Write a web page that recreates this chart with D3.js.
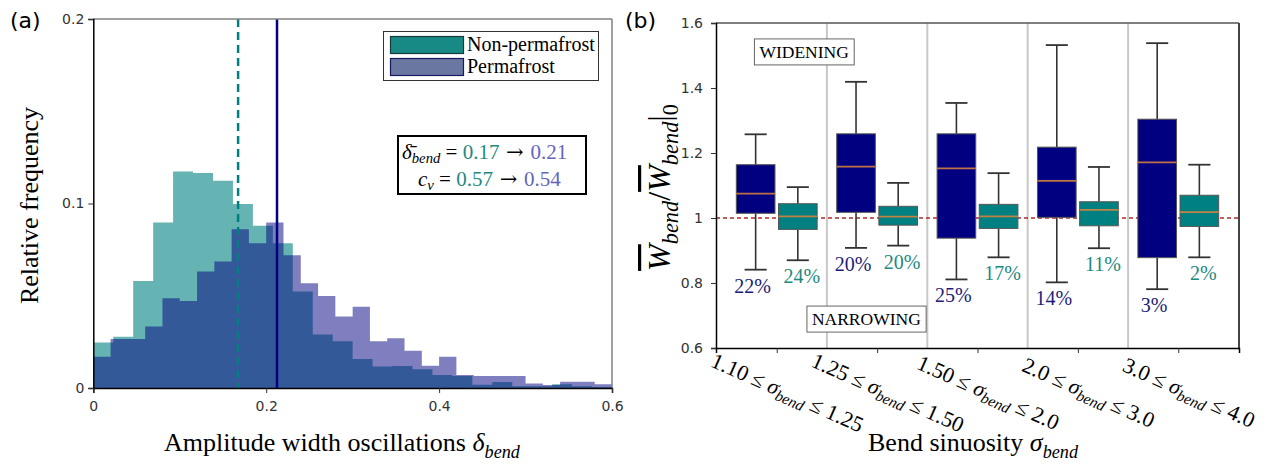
<!DOCTYPE html>
<html>
<head>
<meta charset="utf-8">
<script src="https://cdn.jsdelivr.net/npm/d3@7"></script>
<style>
  body { margin: 0; background: #fff; }
  .serif { font-family: "Liberation Serif", "Times New Roman", serif; }
  .tick text { font-family: "DejaVu Sans", sans-serif; font-size: 14px; fill: #333; }
</style>
</head>
<body>
<div id="chart"></div>
<script>
// ---- panel (a): histogram data ----
// relative frequency per bin
const nonPermStart = 0, nonPermWidth = 0.6 / 26;
const nonPermFreq = [0.0246, 0.0278, 0.058, 0.0897, 0.1174, 0.1165, 0.1123, 0.0997, 0.088, 0.0785,
                     0.0523, 0.0290, 0.0253, 0.0157, 0.0116, 0.0119, 0.0101, 0.0071, 0.0065, 0.0017,
                     0.0033, 0.0010, 0.0010, 0.0020, 0.0010, 0.0005];
const permStart = 0, permWidth = 0.02;
const permFreq = [0.017, 0.0266, 0.0266, 0.0333, 0.0487, 0.0472, 0.0631, 0.0685, 0.0861, 0.0785,
                  0.0897, 0.072, 0.0568, 0.0499, 0.0388, 0.0441, 0.0253, 0.027, 0.0202, 0.0121,
                  0.017, 0.0071, 0.0065, 0.0065, 0.0065, 0.0025, 0.0016, 0.0034, 0.0034, 0.002];
const meanNonPerm = 0.1675, meanPerm = 0.2125;
const xTicksA = [0, 0.2, 0.4, 0.6];
const yTicksA = [0, 0.1, 0.2];

// ---- panel (b): box plot data [lower whisker, q1, median, q3, upper whisker] ----
const binLow  = ["1.10", "1.25", "1.50", "2.0", "3.0"];
const binHigh = ["1.25", "1.50", "2.0", "3.0", "4.0"];
const permBoxes = [
  [0.841, 1.0145, 1.075, 1.164, 1.2575],
  [0.908, 1.0175, 1.158, 1.259, 1.419],
  [0.811, 0.938, 1.153, 1.259, 1.354],
  [0.802, 1.002, 1.114, 1.218, 1.532],
  [0.781, 0.878, 1.171, 1.304, 1.538]
];
const nonPermBoxes = [
  [0.870, 0.965, 1.005, 1.044, 1.095],
  [0.915, 0.978, 1.004, 1.036, 1.108],
  [0.879, 0.968, 1.005, 1.042, 1.138],
  [0.907, 0.976, 1.025, 1.050, 1.157],
  [0.879, 0.974, 1.018, 1.070, 1.164]
];
const permPct = ["22%", "20%", "25%", "14%", "3%"];
const nonPermPct = ["24%", "20%", "17%", "11%", "2%"];
const yTicksB = [0.6, 0.8, 1, 1.2, 1.4, 1.6];

const width = 1272, height = 465;
const teal = "#008080", navy = "#000080";
const tealText = "#23897f", purpleText = "#6464c0", navyText = "#1c1c78";

const svg = d3.select("#chart").append("svg")
  .attr("width", width).attr("height", height);

// helper for math-like text with italic parts and subscripts
function mathText(text, parts, size, subShift = 0.28) {
  let cur = 0;
  parts.forEach(p => {
    const want = p.sub ? size * subShift : 0;
    const t = text.append("tspan").text(p.t).attr("dy", want - cur);
    cur = want;
    if (p.sub) t.attr("font-size", size * 0.7);
    if (p.i) t.attr("font-style", "italic");
    if (p.c) t.attr("fill", p.c);
    if (p.o) t.style("text-decoration", "overline");
    if (p.f) t.attr("font-family", p.f);
  });
}

// ================= panel (a) =================
const xA = d3.scaleLinear().domain([0, 0.6]).range([93.3, 612]);
const yA = d3.scaleLinear().domain([0, 0.2]).range([388, 19]);
const gA = svg.append("g");

function stepData(start, w, vals) {
  const pts = vals.map((v, i) => [start + i * w, v]);
  pts.push([start + vals.length * w, vals[vals.length - 1]]);
  return pts;
}
const histArea = d3.area()
  .curve(d3.curveStepAfter)
  .x(d => xA(d[0]))
  .y0(yA(0))
  .y1(d => yA(d[1]));

gA.append("path").datum(stepData(nonPermStart, nonPermWidth, nonPermFreq))
  .attr("d", histArea).attr("fill", teal).attr("fill-opacity", 0.6);
gA.append("path").datum(stepData(permStart, permWidth, permFreq))
  .attr("d", histArea).attr("fill", navy).attr("fill-opacity", 0.5);

// mean lines
gA.append("line")
  .attr("x1", xA(meanNonPerm)).attr("x2", xA(meanNonPerm))
  .attr("y1", yA(0.2)).attr("y2", yA(0))
  .attr("stroke", teal).attr("stroke-width", 2.5).attr("stroke-dasharray", "8,5");
gA.append("line")
  .attr("x1", xA(meanPerm)).attr("x2", xA(meanPerm))
  .attr("y1", yA(0.2)).attr("y2", yA(0))
  .attr("stroke", navy).attr("stroke-width", 2.5);

// frame
gA.append("line").attr("x1", xA(0)).attr("x2", xA(0.6)).attr("y1", yA(0.2)).attr("y2", yA(0.2))
  .attr("stroke", "#808080").attr("stroke-width", 1.5);
gA.append("line").attr("x1", xA(0.6)).attr("x2", xA(0.6)).attr("y1", yA(0.2)).attr("y2", yA(0))
  .attr("stroke", "#808080").attr("stroke-width", 1.5);

const axLeftA = gA.append("g").attr("transform", `translate(${xA(0)},0)`)
  .call(d3.axisLeft(yA).tickValues(yTicksA).tickSize(5).tickPadding(4)
    .tickFormat(d => d === 0 ? "0" : d3.format(".1f")(d)));
const axBotA = gA.append("g").attr("transform", `translate(0,${yA(0)})`)
  .call(d3.axisBottom(xA).tickValues(xTicksA).tickSize(5).tickPadding(8)
    .tickFormat(d => d === 0 ? "0" : d3.format(".1f")(d)));
[axLeftA, axBotA].forEach(a => {
  a.select(".domain").attr("stroke", "#000").attr("stroke-width", 1.5);
  a.selectAll(".tick line").attr("stroke", "#333");
});

// legend
const leg = gA.append("g");
leg.append("rect").attr("x", 383.5).attr("y", 31.5).attr("width", 215).attr("height", 49)
  .attr("fill", "#fff").attr("stroke", "#333").attr("stroke-width", 1);
leg.append("rect").attr("x", 390.5).attr("y", 36.5).attr("width", 73).attr("height", 17)
  .attr("fill", "#178a85").attr("stroke", "#143a3a").attr("stroke-width", 1.2);
leg.append("rect").attr("x", 390.5).attr("y", 58.5).attr("width", 73).attr("height", 17)
  .attr("fill", "#6a77a0").attr("stroke", "#1a1a60").attr("stroke-width", 1.2);
leg.append("text").attr("class", "serif").attr("x", 467).attr("y", 51)
  .attr("font-size", 20).text("Non-permafrost");
leg.append("text").attr("class", "serif").attr("x", 467).attr("y", 73)
  .attr("font-size", 20).text("Permafrost");

// stats annotation
gA.append("rect").attr("x", 398).attr("y", 136).attr("width", 188).attr("height", 58)
  .attr("fill", "#fff").attr("stroke", "#000").attr("stroke-width", 2);
const arrowFont = "DejaVu Serif, serif";
mathText(gA.append("text").attr("class", "serif").attr("x", 402).attr("y", 159).attr("font-size", 21),
  [{t: "δ̄", i: true}, {t: "bend", i: true, sub: true}, {t: " = "}, {t: "0.17", c: tealText},
   {t: " → ", f: arrowFont}, {t: "0.21", c: purpleText}], 21, 0.18);
mathText(gA.append("text").attr("class", "serif").attr("x", 418).attr("y", 186).attr("font-size", 21),
  [{t: "c", i: true}, {t: "v", i: true, sub: true}, {t: " = "}, {t: "0.57", c: tealText},
   {t: " → ", f: arrowFont}, {t: "0.54", c: purpleText}], 21, 0.18);

// axis titles
gA.append("text").attr("class", "serif")
  .attr("transform", `translate(38,${(yA(0) + yA(0.2)) / 2 + 2}) rotate(-90)`)
  .attr("text-anchor", "middle").attr("font-size", 26).text("Relative frequency");
mathText(gA.append("text").attr("class", "serif").attr("x", 342).attr("y", 451)
  .attr("text-anchor", "middle").attr("font-size", 26),
  [{t: "Amplitude width oscillations "}, {t: "δ", i: true}, {t: "bend", i: true, sub: true}], 26);
svg.append("text").attr("x", 10).attr("y", 28).attr("font-family", "DejaVu Sans, sans-serif")
  .attr("font-size", 22).text("(a)");

// ================= panel (b) =================
const xB = d3.scaleLinear().domain([-0.605, 4.605]).range([716, 1239]);
const yB = d3.scaleLinear().domain([0.6, 1.6]).range([348, 23]);
const gB = svg.append("g");
const idx = d3.range(binLow.length);

// group separators
gB.selectAll("line.sep").data(idx.slice(0, -1)).join("line").attr("class", "sep")
  .attr("x1", i => xB(i + 0.5)).attr("x2", i => xB(i + 0.5))
  .attr("y1", yB(1.6)).attr("y2", yB(0.6))
  .attr("stroke", "#c8c8c8").attr("stroke-width", 2);

// reference line
gB.append("line").attr("x1", xB(-0.605)).attr("x2", xB(4.605))
  .attr("y1", yB(1)).attr("y2", yB(1))
  .attr("stroke", "#b22a2a").attr("stroke-width", 1.4).attr("stroke-dasharray", "4,3");

const boxW = 0.385, capW = 0.22, offset = 0.21;
function drawBoxes(stats, dx, fill) {
  const g = gB.append("g");
  stats.forEach((s, i) => {
    const cx = i + dx;
    const [lo, q1, med, q3, hi] = s;
    g.append("line").attr("x1", xB(cx)).attr("x2", xB(cx)).attr("y1", yB(lo)).attr("y2", yB(q1))
      .attr("stroke", "#333").attr("stroke-width", 1.6);
    g.append("line").attr("x1", xB(cx)).attr("x2", xB(cx)).attr("y1", yB(q3)).attr("y2", yB(hi))
      .attr("stroke", "#333").attr("stroke-width", 1.6);
    [lo, hi].forEach(v => g.append("line")
      .attr("x1", xB(cx - capW / 2)).attr("x2", xB(cx + capW / 2))
      .attr("y1", yB(v)).attr("y2", yB(v)).attr("stroke", "#333").attr("stroke-width", 1.8));
    g.append("rect").attr("x", xB(cx - boxW / 2)).attr("width", xB(boxW) - xB(0))
      .attr("y", yB(q3)).attr("height", yB(q1) - yB(q3))
      .attr("fill", fill).attr("stroke", "#555").attr("stroke-width", 1);
    g.append("line").attr("x1", xB(cx - boxW / 2)).attr("x2", xB(cx + boxW / 2))
      .attr("y1", yB(med)).attr("y2", yB(med))
      .attr("stroke", "#e0853a").attr("stroke-width", 1.8).attr("stroke-opacity", 0.85);
  });
}
drawBoxes(permBoxes, -offset, navy);
drawBoxes(nonPermBoxes, offset, teal);

// percentage labels under the lower whiskers
gB.selectAll("text.pp").data(idx).join("text").attr("class", "pp serif")
  .attr("x", i => xB(i - offset) - 3).attr("y", i => yB(permBoxes[i][0]) + 16)
  .attr("text-anchor", "middle").attr("dominant-baseline", "central")
  .attr("font-size", 20).attr("fill", navyText).text(i => permPct[i]);
gB.selectAll("text.np").data(idx).join("text").attr("class", "np serif")
  .attr("x", i => xB(i + offset) + 4).attr("y", i => yB(nonPermBoxes[i][0]) + 16)
  .attr("text-anchor", "middle").attr("dominant-baseline", "central")
  .attr("font-size", 20).attr("fill", tealText).text(i => nonPermPct[i]);

// widening / narrowing tags
function tag(x, y, label) {
  const t = gB.append("text").attr("class", "serif").attr("x", xB(x)).attr("y", yB(y))
    .attr("text-anchor", "middle").attr("dominant-baseline", "central")
    .attr("font-size", 17.5).text(label);
  const b = t.node().getBBox();
  gB.insert("rect", () => t.node())
    .attr("x", b.x - 5).attr("y", b.y - 3).attr("width", b.width + 10).attr("height", b.height + 6)
    .attr("fill", "#fff").attr("stroke", "#666").attr("stroke-width", 1);
}
tag(0.273, 1.511, "WIDENING");
tag(0.893, 0.689, "NARROWING");

// frame
gB.append("line").attr("x1", xB(-0.605)).attr("x2", xB(4.605)).attr("y1", yB(1.6)).attr("y2", yB(1.6))
  .attr("stroke", "#555").attr("stroke-width", 1.5);
gB.append("line").attr("x1", xB(4.605)).attr("x2", xB(4.605)).attr("y1", yB(1.6)).attr("y2", yB(0.6))
  .attr("stroke", "#444").attr("stroke-width", 2);

const axLeftB = gB.append("g").attr("transform", `translate(${xB(-0.605)},0)`)
  .call(d3.axisLeft(yB).tickValues(yTicksB).tickSize(5).tickPadding(8)
    .tickFormat(d => d === 1 ? "1" : d3.format(".1f")(d)));
const axBotB = gB.append("g").attr("transform", `translate(0,${yB(0.6)})`)
  .call(d3.axisBottom(xB).tickValues(idx).tickSize(5).tickFormat(""));
[axLeftB, axBotB].forEach(a => {
  a.select(".domain").attr("stroke", "#000").attr("stroke-width", 1.5);
  a.selectAll(".tick line").attr("stroke", "#333");
});

// rotated category labels
idx.forEach(i => {
  const t = gB.append("text").attr("class", "serif")
    .attr("transform", `translate(${xB(i) + 11},392) rotate(24)`)
    .attr("text-anchor", "middle").attr("dominant-baseline", "central").attr("font-size", 22);
  mathText(t, [{t: binLow[i] + " ≤ "}, {t: "σ", i: true}, {t: "bend", i: true, sub: true},
               {t: " ≤ " + binHigh[i]}], 22);
});

mathText(gB.append("text").attr("class", "serif").attr("x", 973).attr("y", 451)
  .attr("text-anchor", "middle").attr("font-size", 26),
  [{t: "Bend sinuosity "}, {t: "σ", i: true}, {t: "bend", i: true, sub: true}], 26);

mathText(gB.append("text").attr("class", "serif")
  .attr("transform", `translate(670,${(yB(0.6) + yB(1.6)) / 2 + 2}) rotate(-90)`)
  .attr("text-anchor", "middle").attr("font-size", 32),
  [{t: "W", i: true, o: true}, {t: "bend", i: true, sub: true}, {t: "/"},
   {t: "W", i: true, o: true}, {t: "bend", i: true, sub: true}, {t: "|"}, {t: "0", sub: true}], 32, 0.25);

svg.append("text").attr("x", 625).attr("y", 28).attr("font-family", "DejaVu Sans, sans-serif")
  .attr("font-size", 22).text("(b)");
</script>
</body>
</html>
